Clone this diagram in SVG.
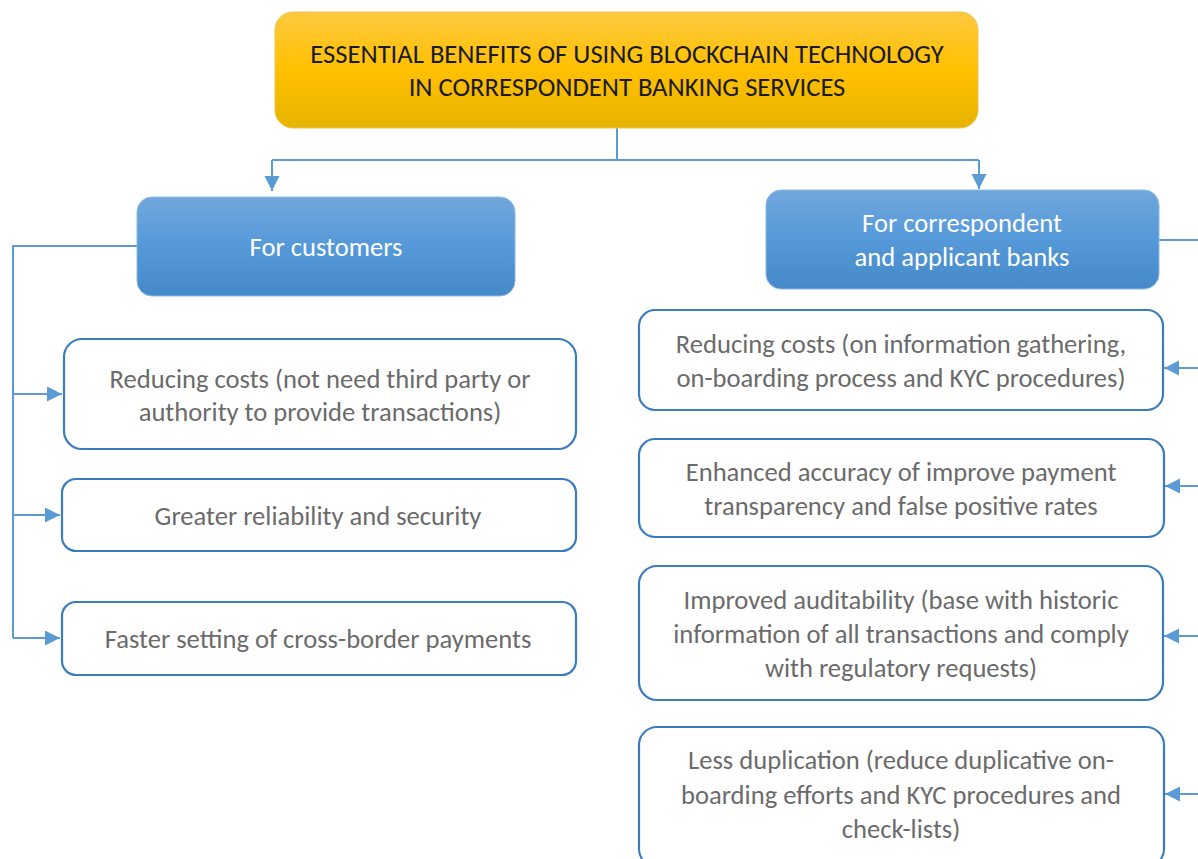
<svg xmlns="http://www.w3.org/2000/svg" width="1198" height="859" viewBox="0 0 1198 859">
<style>
.t{font-family:Carlito,Lato,"Liberation Sans",sans-serif;font-size:26.6px;text-anchor:middle}
.title{fill:#1a1a1a}
.head{fill:#ffffff}
.item{fill:#6b6b6b}
.box{fill:#ffffff;stroke:#3a7cbf;stroke-width:2.2}
.conn{fill:none;stroke:#5b9bd5;stroke-width:2}
</style>
<defs>
<linearGradient id="gGold" x1="0" y1="0" x2="0" y2="1">
<stop offset="0" stop-color="#ffc93f"/>
<stop offset="0.5" stop-color="#ffc000"/>
<stop offset="1" stop-color="#e6b400"/>
</linearGradient>
<linearGradient id="gBlue" x1="0" y1="0" x2="0" y2="1">
<stop offset="0" stop-color="#72a7dc"/>
<stop offset="0.5" stop-color="#5599d9"/>
<stop offset="1" stop-color="#4589c9"/>
</linearGradient>
<marker id="arr" markerUnits="userSpaceOnUse" markerWidth="17" markerHeight="17" refX="15" refY="7.5" orient="auto">
<path d="M0,0 L15,7.5 L0,15 z" fill="#5b9bd5"/>
</marker>
</defs>
<g id="connectors">
<path class="conn" d="M617,128 V160"/>
<path class="conn" d="M272,160 H979"/>
<path class="conn" d="M272,160 V191" marker-end="url(#arr)"/>
<path class="conn" d="M979,160 V189" marker-end="url(#arr)"/>
<path class="conn" d="M137,246 H13 V638"/>
<path class="conn" d="M13,394 H62" marker-end="url(#arr)"/>
<path class="conn" d="M13,515 H60" marker-end="url(#arr)"/>
<path class="conn" d="M13,638 H60" marker-end="url(#arr)"/>
<path class="conn" d="M1159,240 H1200"/>
<path class="conn" d="M1200,368 H1164" marker-end="url(#arr)"/>
<path class="conn" d="M1200,486 H1165" marker-end="url(#arr)"/>
<path class="conn" d="M1200,636 H1164" marker-end="url(#arr)"/>
<path class="conn" d="M1200,794 H1165" marker-end="url(#arr)"/>
</g>
<g id="title">
<rect x="275" y="12" width="703" height="116" rx="18" fill="url(#gGold)" stroke="#f2c14e" stroke-width="1"/>
<text class="t title" x="627" y="63">ESSENTIAL BENEFITS OF USING BLOCKCHAIN TECHNOLOGY</text>
<text class="t title" x="627" y="96">IN CORRESPONDENT BANKING SERVICES</text>
</g>
<g id="customers">
<rect x="137" y="197" width="378" height="99" rx="15" fill="url(#gBlue)" stroke="#8ab8e6" stroke-width="1"/>
<text class="t head" x="326" y="256">For customers</text>
</g>
<g id="banks">
<rect x="766" y="190" width="393" height="99" rx="15" fill="url(#gBlue)" stroke="#8ab8e6" stroke-width="1"/>
<text class="t head" x="962" y="232">For correspondent</text>
<text class="t head" x="962" y="266">and applicant banks</text>
</g>
<g id="c1">
<rect class="box" x="64" y="339" width="512" height="110" rx="18"/>
<text class="t item" x="320" y="388">Reducing costs (not need third party or</text>
<text class="t item" x="320" y="421">authority to provide transactions)</text>
</g>
<g id="c2">
<rect class="box" x="62" y="479" width="514" height="72" rx="14"/>
<text class="t item" x="318" y="525">Greater reliability and security</text>
</g>
<g id="c3">
<rect class="box" x="62" y="602" width="514" height="73" rx="14"/>
<text class="t item" x="318" y="648">Faster setting of cross-border payments</text>
</g>
<g id="b1">
<rect class="box" x="639" y="310" width="524" height="100" rx="16"/>
<text class="t item" x="901" y="353">Reducing costs (on information gathering,</text>
<text class="t item" x="901" y="387">on-boarding process and KYC procedures)</text>
</g>
<g id="b2">
<rect class="box" x="639" y="439" width="525" height="98" rx="16"/>
<text class="t item" x="901" y="481">Enhanced accuracy of improve payment</text>
<text class="t item" x="901" y="515">transparency and false positive rates</text>
</g>
<g id="b3">
<rect class="box" x="639" y="566" width="524" height="134" rx="18"/>
<text class="t item" x="901" y="609">Improved auditability (base with historic</text>
<text class="t item" x="901" y="643">information of all transactions and comply</text>
<text class="t item" x="901" y="677">with regulatory requests)</text>
</g>
<g id="b4">
<rect class="box" x="639" y="727" width="525" height="140" rx="18"/>
<text class="t item" x="901" y="769">Less duplication (reduce duplicative on-</text>
<text class="t item" x="901" y="804">boarding efforts and KYC procedures and</text>
<text class="t item" x="901" y="838">check-lists)</text>
</g>
</svg>
